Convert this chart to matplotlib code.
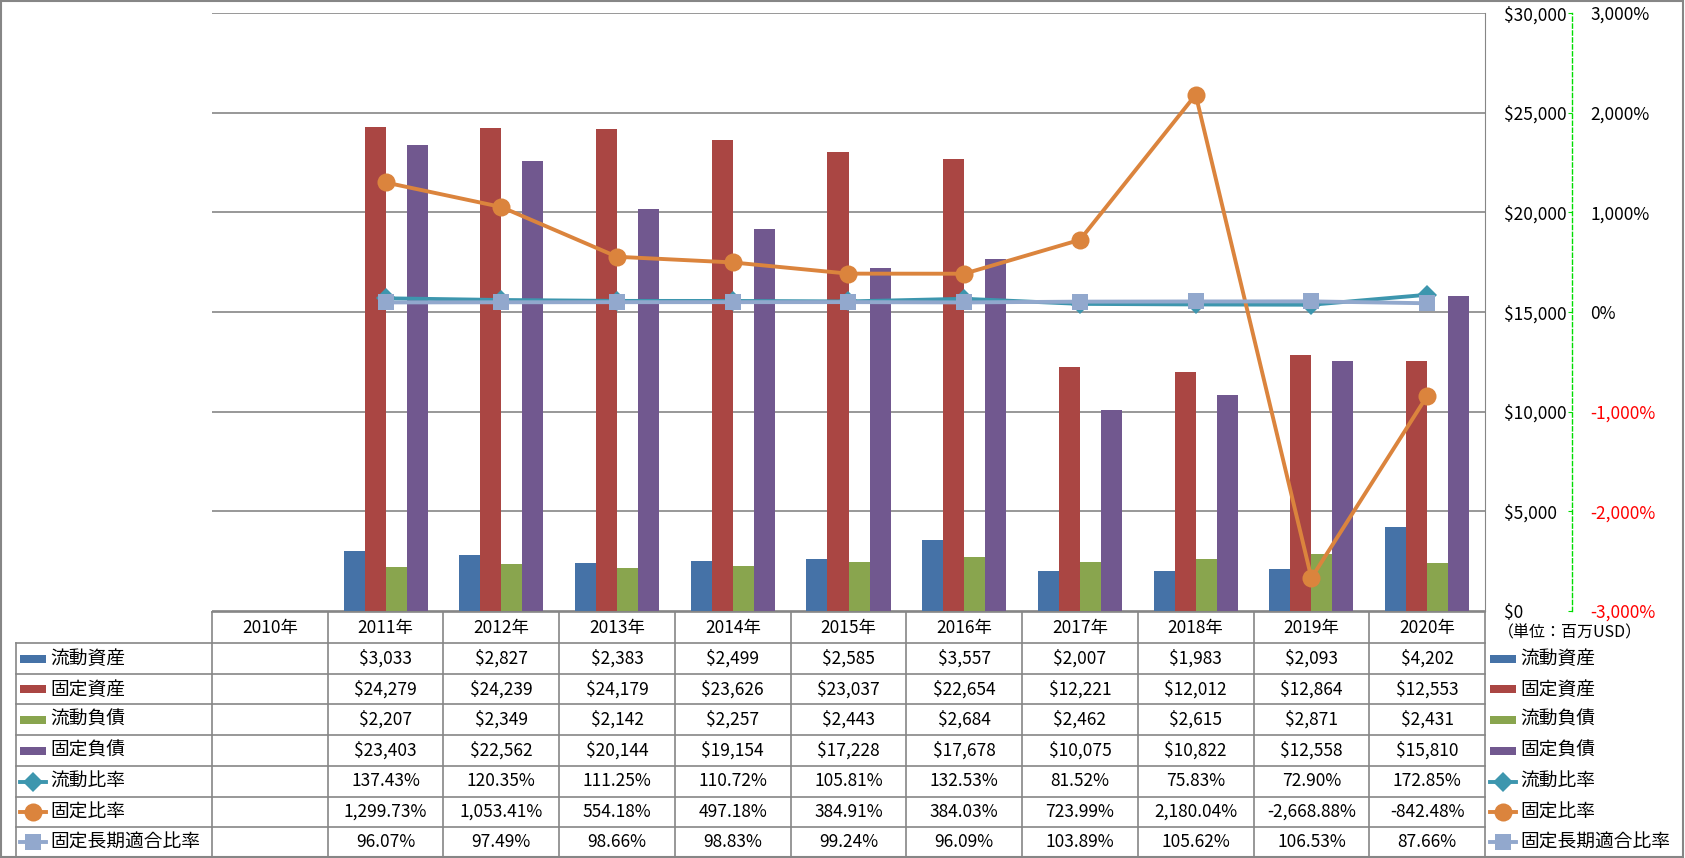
import numpy as np
import matplotlib
matplotlib.use("Agg")
import matplotlib.pyplot as plt
from matplotlib.patches import Rectangle
from matplotlib.lines import Line2D

plt.rcParams['font.family'] = ['Noto Sans CJK JP', 'DejaVu Sans']

years = ["2010年", "2011年", "2012年", "2013年", "2014年", "2015年",
         "2016年", "2017年", "2018年", "2019年", "2020年"]

# amounts (million USD), 2010 has no data
current_assets = [np.nan, 3033, 2827, 2383, 2499, 2585, 3557, 2007, 1983, 2093, 4202]
fixed_assets = [np.nan, 24279, 24239, 24179, 23626, 23037, 22654, 12221, 12012, 12864, 12553]
current_liab = [np.nan, 2207, 2349, 2142, 2257, 2443, 2684, 2462, 2615, 2871, 2431]
fixed_liab = [np.nan, 23403, 22562, 20144, 19154, 17228, 17678, 10075, 10822, 12558, 15810]

# ratios (%)
current_ratio = [np.nan, 137.43, 120.35, 111.25, 110.72, 105.81, 132.53, 81.52, 75.83, 72.90, 172.85]
fixed_ratio = [np.nan, 1299.73, 1053.41, 554.18, 497.18, 384.91, 384.03, 723.99, 2180.04, -2668.88, -842.48]
fixed_lt_ratio = [np.nan, 96.07, 97.49, 98.66, 98.83, 99.24, 96.09, 103.89, 105.62, 106.53, 87.66]

bar_names = ["流動資産", "固定資産", "流動負債", "固定負債"]
line_names = ["流動比率", "固定比率", "固定長期適合比率"]
bar_colors = ["#4572A7", "#AA4643", "#89A54E", "#71588F"]
line_colors = ["#3D96AE", "#DB843D", "#92A8CD"]
line_markers = ["D", "o", "s"]
line_msize = [10, 13, 12]

W, H = 1685, 858
fig = plt.figure(figsize=(W / 100, H / 100), dpi=100)

def fx(px):
    return px / W

def fy(py):
    return 1 - py / H

# plot area in pixels
L, R, T, B = 212, 1485, 13, 611
ax = fig.add_axes([fx(L), fy(B), fx(R - L), fy(T) - fy(B)])
ax2 = ax.twinx()

x = np.arange(len(years))
bw = 0.1815
bar_series = [current_assets, fixed_assets, current_liab, fixed_liab]
for i, (vals, c) in enumerate(zip(bar_series, bar_colors)):
    ax.bar(x + (i - 1.5) * bw, vals, width=bw, color=c, zorder=2)

ax.set_xlim(-0.5, len(years) - 0.5)
ax.set_ylim(0, 30000)
ax.set_yticks(np.arange(0, 30001, 5000))
ax.set_yticklabels(["$0", "$5,000", "$10,000", "$15,000", "$20,000", "$25,000", "$30,000"])
ax.yaxis.tick_right()
ax.tick_params(axis='y', length=0, pad=13.5, labelsize=12.5)
ax.set_xticks([])
ax.grid(axis='y', color='#868686', linewidth=1.2, zorder=0)
ax.set_axisbelow(True)
for s in ["left", "top"]:
    ax.spines[s].set_visible(False)
ax.spines["right"].set_color('#868686')
ax.spines["bottom"].set_color('#868686')

ax2.set_ylim(-3000, 3000)
ratio_series = [current_ratio, fixed_ratio, fixed_lt_ratio]
for vals, c, m, ms in zip(ratio_series, line_colors, line_markers, line_msize):
    ax2.plot(x, vals, color=c, marker=m, markersize=ms, linewidth=2.8,
             markeredgewidth=0, zorder=3)
pct_ticks = np.arange(-3000, 3001, 1000)
ax2.set_yticks(pct_ticks)
ax2.set_yticklabels(["-3,000%", "-2,000%", "-1,000%", "0%", "1,000%", "2,000%", "3,000%"])
for s in ["left", "top", "bottom"]:
    ax2.spines[s].set_visible(False)
ax2.spines["right"].set_position(('axes', 1 + 87 / (R - L)))
ax2.spines["right"].set_color('#00DD00')
ax2.spines["right"].set_linestyle((0, (3, 2)))
ax2.spines["right"].set_linewidth(1)
ax2.tick_params(axis='y', direction='in', length=3, color='#00DD00', pad=13, labelsize=12.5)
for t, v in zip(ax2.get_yticklabels(), pct_ticks):
    t.set_color('red' if v < 0 else 'black')

fig.text(fx(1498), fy(633), "（単位：百万USD）", fontsize=11.5, va='center', ha='left')

# data table
tax = fig.add_axes([fx(L), fy(857), fx(R - L), fy(612) - fy(857)])
tax.set_xlim(-0.5, len(years) - 0.5)
tax.set_ylim(857, 612)
tax.axis('off')
cw = (R - L) / len(years)

def px2x(px):
    return -0.5 + (px - L) / cw

rows_y = [612, 643, 674, 704, 735, 766, 797, 827, 857]
gc = '#868686'
kw = dict(color=gc, linewidth=1.2, clip_on=False)
tax.plot([px2x(L), px2x(R)], [612, 612], **kw)
for yy in rows_y[1:]:
    tax.plot([px2x(16), px2x(R)], [yy, yy], **kw)
for i in range(len(years) + 1):
    tax.plot([i - 0.5, i - 0.5], [612, 857], **kw)
tax.plot([px2x(16), px2x(16)], [643, 857], **kw)

fs = 12.5
for i, yl in enumerate(years):
    tax.text(i, (rows_y[0] + rows_y[1]) / 2, yl, ha='center', va='center', fontsize=fs)

def fmt_money(v):
    return "" if np.isnan(v) else "${:,.0f}".format(v)

def fmt_pct(v):
    return "" if np.isnan(v) else "{:,.2f}%".format(v)

all_rows = [(n, s, fmt_money) for n, s in zip(bar_names, bar_series)] + \
           [(n, s, fmt_pct) for n, s in zip(line_names, ratio_series)]
for r, (name, vals, f) in enumerate(all_rows):
    yc = (rows_y[r + 1] + rows_y[r + 2]) / 2
    for i, v in enumerate(vals):
        tax.text(i, yc, f(v), ha='center', va='center', fontsize=fs)
    # legend keys on both sides
    for gx0, tx in [(20, 50), (1490, 1520)]:
        if r < 4:
            tax.add_patch(Rectangle((px2x(gx0), yc - 4), px2x(gx0 + 26) - px2x(gx0), 8,
                                    color=bar_colors[r], clip_on=False, linewidth=0))
        else:
            k = r - 4
            tax.add_line(Line2D([px2x(gx0), px2x(gx0 + 26)], [yc, yc], color=line_colors[k],
                                linewidth=2.8, clip_on=False))
            tax.add_line(Line2D([px2x(gx0 + 13)], [yc], color=line_colors[k],
                                marker=line_markers[k], markersize=line_msize[k],
                                markeredgewidth=0, clip_on=False))
        tax.text(px2x(tx), yc, name, ha='left', va='center', fontsize=13.5)

# outer frame
fig.patches.append(Rectangle((fx(1), fy(857)), fx(W - 3), fy(1) - fy(857), transform=fig.transFigure,
                             fill=False, edgecolor=gc, linewidth=1.5))

fig.savefig("out.png", dpi=100)
